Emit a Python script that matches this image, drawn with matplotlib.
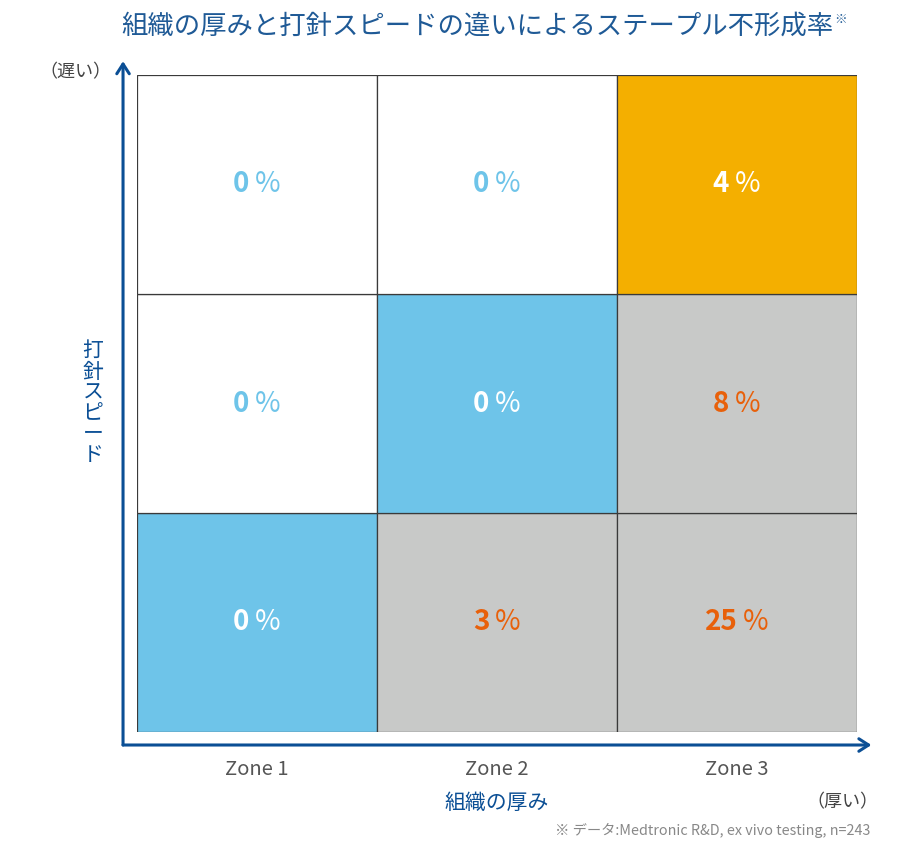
import matplotlib.pyplot as plt
from matplotlib.patches import Rectangle
from matplotlib.transforms import ScaledTranslation

plt.rcParams['font.family'] = ['Noto Sans CJK JP', 'DejaVu Sans']

# -------------------------------------
#  Data
# -------------------------------------
title = "組織の厚みと打針スピードの違いによるステープル不形成率"
zones = ["Zone 1", "Zone 2", "Zone 3"]
# rows from bottom (fast) to top (slow)
rates = [
    [0, 3, 25],
    [0, 0, 8],
    [0, 0, 4],
]
# cell kind: w = white, b = blue, o = orange, g = grey
kinds = [
    ["b", "g", "g"],
    ["w", "b", "g"],
    ["w", "w", "o"],
]

fill = {"w": "white", "b": "#6EC4E9", "o": "#F4AF00", "g": "#C8C9C8"}
txt = {"w": "#6EC4E9", "b": "white", "o": "white", "g": "#E8600A"}
navy = "#0B4F95"

W, H = 902, 843
fig = plt.figure(figsize=(W / 100, H / 100), dpi=100)

# grid axes placed in pixel terms
x0, x1, y0, y1 = 137, 857, 75, 732
ax = fig.add_axes([x0 / W, 1 - y1 / H, (x1 - x0) / W, (y1 - y0) / H])
ax.set_xlim(0, 3)
ax.set_ylim(0, 3)
ax.axis("off")

shift = ScaledTranslation(-16 / 100, 0, fig.dpi_scale_trans)
for r, row in enumerate(rates):
    for c, v in enumerate(row):
        k = kinds[r][c]
        ax.add_patch(Rectangle((c, r), 1, 1, facecolor=fill[k],
                               edgecolor="#3a3a3a", linewidth=0.9))
        # number shifted left so number + % sit centred together
        num = ax.text(c + 0.5, r + 0.5, str(v), ha="center", va="center",
                      fontsize=20, fontweight="bold", color=txt[k],
                      transform=ax.transData + shift)
        ax.annotate("%", xy=(1, 0.5), xycoords=num, xytext=(4, 0),
                    textcoords="offset points", ha="left", va="center",
                    fontsize=20, color=txt[k])

# axis arrows
arrow = dict(arrowstyle="->,head_width=0.45,head_length=0.7",
             color=navy, lw=2.2, shrinkA=0, shrinkB=0)
ax.annotate("", xy=(-0.0194, 1.021), xytext=(-0.0194, -0.0198),
            xycoords="axes fraction", arrowprops=arrow)
ax.annotate("", xy=(1.02, -0.0198), xytext=(-0.0194, -0.0198),
            xycoords="axes fraction", arrowprops=arrow)

# zone labels
for i, z in enumerate(zones):
    ax.text(i + 0.5, -0.17, z, ha="center", va="center", fontsize=14.5,
            color="#555555")

# texts in figure pixels
def ftext(x, y, s, **kw):
    return fig.text(x / W, 1 - y / H, s, **kw)

t = ftext(121, 26, title, ha="left", va="center", fontsize=19.0, color="#1F5A96")
fig.add_artist(plt.matplotlib.text.Annotation(
    "※", xy=(1, 0.75), xycoords=t, xytext=(1, 0), textcoords="offset points",
    ha="left", va="center", fontsize=9, color="#1F5A96"))
ftext(75, 72, "（遅い）", ha="center", va="center", fontsize=13, color="#444444")
ftext(93, 403, "\n".join("打針スピード"), ha="center", va="center",
      fontsize=15, color=navy, linespacing=0.93)
ftext(497, 803, "組織の厚み", ha="center", va="center", fontsize=15, color=navy)
ftext(842, 802, "（厚い）", ha="center", va="center", fontsize=13, color="#444444")
ftext(870, 830, "※ データ:Medtronic R&D, ex vivo testing, n=243",
      ha="right", va="center", fontsize=10.3, color="#888888")

fig.savefig("out.png", dpi=100)
